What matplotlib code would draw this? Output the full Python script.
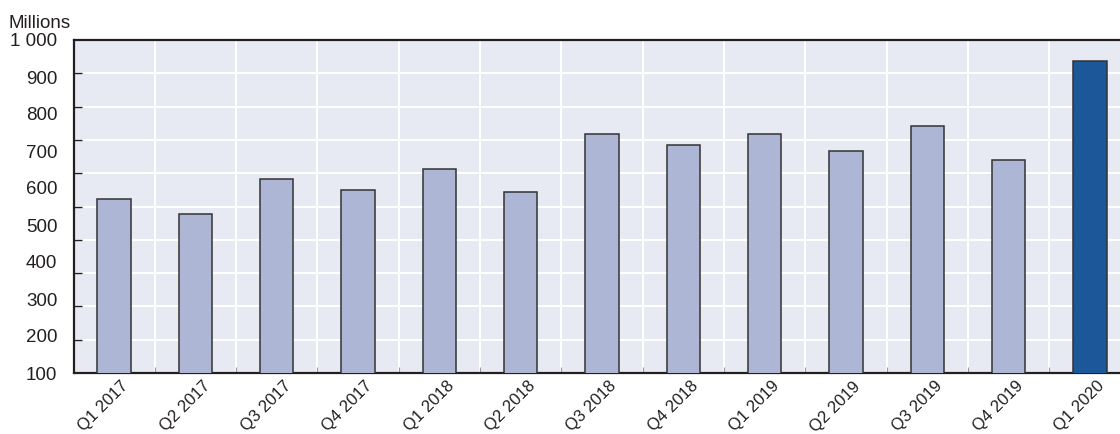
import numpy as np
import matplotlib
matplotlib.use("Agg")
import matplotlib.pyplot as plt
from matplotlib.ticker import FixedLocator, NullFormatter
from matplotlib.transforms import ScaledTranslation

# Quarterly values, in millions
quarters = ["Q1 2017", "Q2 2017", "Q3 2017", "Q4 2017",
            "Q1 2018", "Q2 2018", "Q3 2018", "Q4 2018",
            "Q1 2019", "Q2 2019", "Q3 2019", "Q4 2019",
            "Q1 2020"]
values = [570, 529, 625, 595, 651, 590, 747, 717, 747, 701, 768, 676, 944]
highlight = "Q1 2020"

y_labels = [100, 200, 300, 400, 500, 600, 700, 800, 900, 1000]
y_min, y_max = 100, 1000

light_bar = "#AEB6D6"
dark_bar = "#1B5799"
panel_bg = "#E8EAF3"
ink = "#231F20"

plt.rcParams["font.family"] = ["Liberation Sans", "DejaVu Sans"]

fig = plt.figure(figsize=(11.2, 4.34), dpi=100)
ax = fig.add_axes([74 / 1120, 61 / 434, (1120 - 74) / 1120, 333 / 434])
ax.set_facecolor(panel_bg)

x = np.arange(len(quarters))
colors = [dark_bar if q == highlight else light_bar for q in quarters]
ax.bar(x, values, width=0.41, color=colors, edgecolor="#333333",
       linewidth=1.1, zorder=3)

ax.set_xlim(-0.492, 12.369)
ax.set_ylim(y_min, y_max)

# Grid: ten equal horizontal bands, vertical lines between categories
ax.yaxis.set_minor_locator(FixedLocator(np.linspace(y_min, y_max, 11)))
ax.xaxis.set_minor_locator(FixedLocator(x[:-1] + 0.5))
ax.yaxis.set_minor_formatter(NullFormatter())
ax.xaxis.set_minor_formatter(NullFormatter())
ax.grid(which="minor", color="white", linewidth=1.5, zorder=0)
ax.grid(which="major", visible=False)
ax.set_axisbelow(True)

ax.set_yticks(y_labels)
ax.set_yticklabels(["1 000" if v == 1000 else str(v) for v in y_labels])
ax.tick_params(axis="y", which="major", length=0, pad=12,
               labelsize=13.5, labelcolor=ink)
ax.tick_params(axis="y", which="minor", direction="in", length=6,
               width=1.0, color=ink)
ax.tick_params(axis="x", which="minor", direction="in", length=4.5,
               width=0.8, color="#9a9a9a")

ax.set_xticks(x)
ax.set_xticklabels(quarters, rotation=45, ha="right", va="top",
                   rotation_mode="anchor")
ax.tick_params(axis="x", which="major", length=0, pad=4,
               labelsize=12, labelcolor=ink)
shift = ScaledTranslation(7 / 100, 0, fig.dpi_scale_trans)
for lab in ax.get_xticklabels():
    lab.set_transform(lab.get_transform() + shift)

for side in ("left", "bottom", "top"):
    ax.spines[side].set_color(ink)
    ax.spines[side].set_linewidth(1.6)
ax.spines["right"].set_visible(False)

fig.text(8 / 1120, 1 - 28 / 434, "Millions", fontsize=13.5, color=ink,
         ha="left", va="baseline")

fig.savefig("out.png", dpi=100)
